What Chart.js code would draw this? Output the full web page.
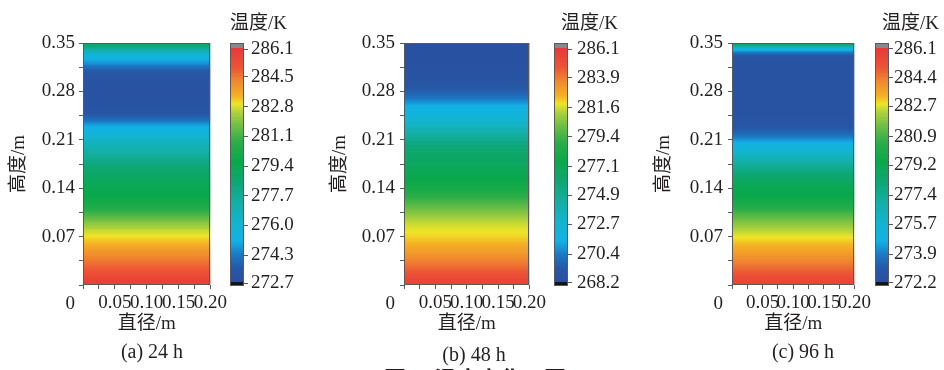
<!DOCTYPE html>
<html>
<head>
<meta charset="utf-8">
<script src="https://cdn.jsdelivr.net/npm/chart.js@4.4.1/dist/chart.umd.min.js"></script>
<style>
  html, body { margin: 0; padding: 0; background: #fff; }
  #wrap { position: relative; width: 944px; height: 370px; overflow: hidden; background: #fff; }
  #wrap canvas { position: absolute; top: 0; }
  .lbl { position: absolute; font-family: "Liberation Serif", "Noto Sans CJK SC", serif; color: #231f20;
         white-space: nowrap; line-height: 1; }
  .ctr { transform: translate(-50%, -50%); }
  .rgt { transform: translate(-100%, -50%); }
</style>
</head>
<body>
<div id="wrap">
  <canvas id="fieldA" width="232" height="370" style="left:0px"></canvas>
  <canvas id="barA" width="95" height="370" style="left:222px"></canvas>
  <canvas id="fieldB" width="231" height="370" style="left:320px"></canvas>
  <canvas id="barB" width="95" height="370" style="left:546px"></canvas>
  <canvas id="fieldC" width="246" height="370" style="left:630px"></canvas>
  <canvas id="barC" width="77" height="370" style="left:867px"></canvas>

  <div class="lbl rgt" style="left:287px; top:22px; font-size:19px;">温度/K</div>
  <div class="lbl rgt" style="left:618px; top:22px; font-size:19px;">温度/K</div>
  <div class="lbl rgt" style="left:939px; top:22px; font-size:19px;">温度/K</div>

  <div class="lbl ctr" style="left:152px; top:351px; font-size:20px;">(a) 24 h</div>
  <div class="lbl ctr" style="left:474px; top:354px; font-size:20px;">(b) 48 h</div>
  <div class="lbl ctr" style="left:803px; top:351px; font-size:20px;">(c) 96 h</div>

  <div class="lbl" style="left:475px; top:366px; transform:translateX(-50%); font-size:22px; font-weight:bold; font-family:'Noto Sans CJK SC', sans-serif;">图 5&nbsp;&nbsp;温度变化云图</div>
</div>

<script>
// ---- axes (shared by the three panels) ----
const heightTicks = [0, 0.035, 0.07, 0.105, 0.14, 0.175, 0.21, 0.245, 0.28, 0.315, 0.35];
const heightTickLabels = [['', '', '0'], '', '0.07', '', '0.14', '', '0.21', '', '0.28', '', '0.35'];
const diameterTicks = [0, 0.025, 0.05, 0.075, 0.1, 0.125, 0.15, 0.175, 0.2];
const diameterTickLabels = ['', '', '0.05', '', '0.10', '', '0.15', '', '0.20'];

// ---- (a) 24 h: temperature (K) along the height (m) ----
const heights24 = [0, 0.01, 0.02, 0.03, 0.04, 0.05, 0.06, 0.07, 0.08, 0.09, 0.10, 0.11, 0.12,
                   0.13, 0.14, 0.15, 0.16, 0.17, 0.18, 0.19, 0.20, 0.21, 0.22, 0.23, 0.24, 0.25,
                   0.26, 0.27, 0.28, 0.29, 0.30, 0.31, 0.32, 0.33, 0.34, 0.35];
const temps24 = [285.9, 285.6, 285.1, 284.7, 284.3, 283.9, 283.4, 283.0, 282.6, 282.0, 281.3, 280.6, 280.0,
                 279.6, 279.4, 279.2, 278.9, 278.5, 278.0, 277.4, 276.9, 276.4, 275.7, 275.0, 274.0, 273.3,
                 273.1, 273.0, 273.0, 273.1, 273.2, 273.6, 274.6, 275.4, 277.2, 279.2];
const levels24 = [272.7, 274.3, 276.0, 277.7, 279.4, 281.1, 282.8, 284.5, 286.1];

// ---- (b) 48 h ----
const heights48 = [0, 0.01, 0.02, 0.03, 0.04, 0.05, 0.06, 0.07, 0.08, 0.09, 0.10, 0.11, 0.12,
                   0.13, 0.14, 0.15, 0.16, 0.17, 0.18, 0.19, 0.20, 0.21, 0.22, 0.23, 0.24, 0.25,
                   0.26, 0.27, 0.28, 0.29, 0.30, 0.31, 0.32, 0.33, 0.34, 0.35];
const temps48 = [285.7, 285.3, 284.6, 284.0, 283.5, 283.0, 282.5, 282.1, 281.8, 281.5, 280.9, 280.2, 279.5,
                 278.8, 278.1, 277.6, 277.2, 276.9, 276.6, 276.3, 275.8, 275.1, 274.3, 273.4, 272.7, 271.9,
                 271.3, 270.3, 269.5, 269.0, 268.8, 268.6, 268.5, 268.5, 268.5, 268.5];
const levels48 = [268.2, 270.4, 272.7, 274.9, 277.1, 279.4, 281.6, 283.9, 286.1];

// ---- (c) 96 h ----
const heights96 = [0, 0.01, 0.02, 0.03, 0.04, 0.05, 0.06, 0.07, 0.08, 0.09, 0.10, 0.11, 0.12,
                   0.13, 0.14, 0.15, 0.16, 0.17, 0.18, 0.19, 0.20, 0.21, 0.22, 0.23, 0.24, 0.25,
                   0.26, 0.27, 0.28, 0.29, 0.30, 0.31, 0.32, 0.33, 0.335, 0.34, 0.345, 0.35];
const temps96 = [285.8, 285.4, 284.85, 284.4, 284.0, 283.6, 283.2, 282.8, 282.35, 281.8, 281.2, 280.5, 279.8,
                 279.4, 279.15, 278.7, 278.2, 277.5, 276.8, 276.0, 275.2, 274.3, 273.4, 272.9, 272.7, 272.6,
                 272.6, 272.6, 272.6, 272.6, 272.6, 272.6, 272.6, 272.8, 273.6, 274.8, 277.0, 279.3];
const levels96 = [272.2, 273.9, 275.7, 277.4, 279.2, 280.9, 282.7, 284.4, 286.1];

// ---- rainbow colour map (position 0..1 -> colour) ----
const cmapPos = [0, 0.06, 0.12, 0.18, 0.26, 0.34, 0.42, 0.52, 0.60, 0.67, 0.73, 0.765, 0.80, 0.86, 0.92, 1];
const cmapCol = ['#2a4f9f', '#2657a6', '#1b78c4', '#12b1e6', '#12b4cf', '#14afa8', '#0ea77a', '#0aa84a',
                 '#2aad48', '#6dbe45', '#aed23a', '#eee527', '#f5b024', '#f08a2e', '#ec5535', '#e8393a'];

const TEXT = '#231f20';
const LINE = '#58595b';
const FONT = '"Liberation Serif", "Noto Sans CJK SC", serif';

function hexRgb(h) {
  return [parseInt(h.slice(1, 3), 16), parseInt(h.slice(3, 5), 16), parseInt(h.slice(5, 7), 16)];
}
const cmapRgb = cmapCol.map(hexRgb);

function colorAt(t) {
  t = Math.max(0, Math.min(1, t));
  let i = 0;
  while (i < cmapPos.length - 2 && t > cmapPos[i + 1]) i++;
  const f = (t - cmapPos[i]) / (cmapPos[i + 1] - cmapPos[i]);
  const a = cmapRgb[i], b = cmapRgb[i + 1];
  return 'rgb(' + Math.round(a[0] + (b[0] - a[0]) * f) + ',' +
                  Math.round(a[1] + (b[1] - a[1]) * f) + ',' +
                  Math.round(a[2] + (b[2] - a[2]) * f) + ')';
}

// temperature at height h, shaded linearly between the sampled rows
function tempAt(pts, h) {
  if (h <= pts[0].y) return pts[0].v;
  for (let i = 1; i < pts.length; i++) {
    if (h <= pts[i].y) {
      const f = (h - pts[i - 1].y) / (pts[i].y - pts[i - 1].y);
      return pts[i - 1].v + (pts[i].v - pts[i - 1].v) * f;
    }
  }
  return pts[pts.length - 1].v;
}

// fills the plot area with the temperature field
const fieldPlugin = {
  id: 'tempField',
  beforeDatasetsDraw(chart, args, opts) {
    const { ctx, chartArea: a, scales: { x, y } } = chart;
    const pts = chart.data.datasets[0].data;
    const x0 = x.getPixelForValue(x.min), x1 = x.getPixelForValue(x.max);
    ctx.save();
    for (let py = Math.round(a.top); py < Math.round(a.bottom); py++) {
      const h = y.getValueForPixel(py + 0.5);
      ctx.fillStyle = colorAt((tempAt(pts, h) - opts.lo) / (opts.hi - opts.lo));
      ctx.fillRect(x0, py, x1 - x0, 1);
    }
    ctx.restore();
  },
  afterDatasetsDraw(chart) {
    const { ctx, chartArea: a } = chart;
    ctx.save();
    ctx.strokeStyle = LINE;
    ctx.lineWidth = 1;
    ctx.strokeRect(Math.round(a.left) + 0.5, Math.round(a.top) + 0.5,
                   Math.round(a.width) - 1, Math.round(a.height) - 1);
    ctx.restore();
  }
};

// colour bar with the grey (above range) and black (below range) end caps
const colorBarPlugin = {
  id: 'colorBar',
  beforeDatasetsDraw(chart, args, opts) {
    const { ctx, chartArea: a, scales: { y } } = chart;
    const yHi = y.getPixelForValue(opts.hi), yLo = y.getPixelForValue(opts.lo);
    ctx.save();
    for (let py = Math.round(a.top); py < Math.round(a.bottom); py++) {
      let c;
      if (py < yHi - 1.5) c = '#86888b';
      else if (py >= yLo - 1) c = '#141414';
      else c = colorAt((y.getValueForPixel(py + 0.5) - opts.lo) / (opts.hi - opts.lo));
      ctx.fillStyle = c;
      ctx.fillRect(a.left, py, a.width, 1);
    }
    ctx.strokeStyle = LINE;
    ctx.lineWidth = 1;
    ctx.strokeRect(Math.round(a.left) + 0.5, Math.round(a.top) + 0.5,
                   Math.round(a.width) - 1, Math.round(a.height) - 1);
    ctx.restore();
  }
};

function tickFont() { return { family: FONT, size: 19, lineHeight: 1 }; }

function fieldChart(id, heights, temps, levels, geo) {
  const data = heights.map((h, i) => ({ x: 0.1, y: h, v: temps[i] }));
  return new Chart(document.getElementById(id), {
    type: 'scatter',
    data: { datasets: [{ data, pointRadius: 0, pointHoverRadius: 0, showLine: false }] },
    plugins: [fieldPlugin],
    options: {
      responsive: false, animation: false, devicePixelRatio: 1,
      events: [],
      layout: { padding: { top: 43, right: 18, left: 0, bottom: 0 } },
      plugins: {
        legend: { display: false }, tooltip: { enabled: false },
        tempField: { lo: levels[0], hi: levels[levels.length - 1] }
      },
      scales: {
        x: {
          type: 'linear', min: 0, max: 0.2,
          afterBuildTicks: s => { s.ticks = diameterTicks.map(v => ({ value: v })); },
          afterFit: s => { s.height = 85; },
          ticks: { autoSkip: false, maxRotation: 0, minRotation: 0, padding: 5, color: TEXT, font: tickFont(),
                   callback: (v, i) => diameterTickLabels[i] },
          grid: { drawOnChartArea: false, drawTicks: true, tickLength: 4, color: LINE },
          border: { display: false },
          title: { display: true, text: '直径/m', color: TEXT, font: { family: FONT, size: 19, lineHeight: 1 },
                   padding: { top: 0, bottom: 36 } }
        },
        y: {
          type: 'linear', min: 0, max: 0.35,
          afterBuildTicks: s => { s.ticks = heightTicks.map(v => ({ value: v })); },
          afterFit: s => { s.width = geo.yWidth; },
          ticks: { autoSkip: false, padding: geo.yPad, color: TEXT, font: tickFont(),
                   callback: (v, i) => heightTickLabels[i] },
          grid: { drawOnChartArea: false, drawTicks: true, tickLength: 4, color: LINE },
          border: { display: false },
          title: { display: true, text: '高度/m', color: TEXT, font: { family: FONT, size: 19, lineHeight: 1 },
                   padding: { top: geo.yTitlePad, bottom: 0 } }
        }
      }
    }
  });
}

function colorBarChart(id, levels, geo) {
  const lo = levels[0], hi = levels[levels.length - 1];
  const pxPerK = 234 / (hi - lo);
  return new Chart(document.getElementById(id), {
    type: 'scatter',
    data: { datasets: [{ data: levels.map(v => ({ x: 0, y: v })), pointRadius: 0, pointHoverRadius: 0 }] },
    plugins: [colorBarPlugin],
    options: {
      responsive: false, animation: false, devicePixelRatio: 1,
      events: [],
      layout: { padding: { top: 43, right: 0, left: 8, bottom: 84 } },
      plugins: {
        legend: { display: false }, tooltip: { enabled: false },
        colorBar: { lo, hi }
      },
      scales: {
        x: { type: 'linear', display: false, min: -1, max: 1 },
        y: {
          type: 'linear', position: 'right',
          min: lo - 3 / pxPerK, max: hi + 6 / pxPerK,
          afterBuildTicks: s => { s.ticks = levels.map(v => ({ value: v })); },
          afterFit: s => { s.width = geo.barAxisWidth; },
          ticks: { autoSkip: false, padding: geo.barPad, color: TEXT, font: tickFont(),
                   callback: v => v.toFixed(1) },
          grid: { drawOnChartArea: false, drawTicks: true, tickLength: 4, color: LINE },
          border: { display: false }
        }
      }
    }
  });
}

fieldChart('fieldA', heights24, temps24, levels24, { yWidth: 83, yPad: 4, yTitlePad: 10 });
colorBarChart('barA', levels24, { barAxisWidth: 73, barPad: 3 });
fieldChart('fieldB', heights48, temps48, levels48, { yWidth: 84, yPad: 5, yTitlePad: 11 });
colorBarChart('barB', levels48, { barAxisWidth: 73, barPad: 5 });
fieldChart('fieldC', heights96, temps96, levels96, { yWidth: 102, yPad: 5, yTitlePad: 25 });
colorBarChart('barC', levels96, { barAxisWidth: 55, barPad: 1 });
</script>
</body>
</html>
